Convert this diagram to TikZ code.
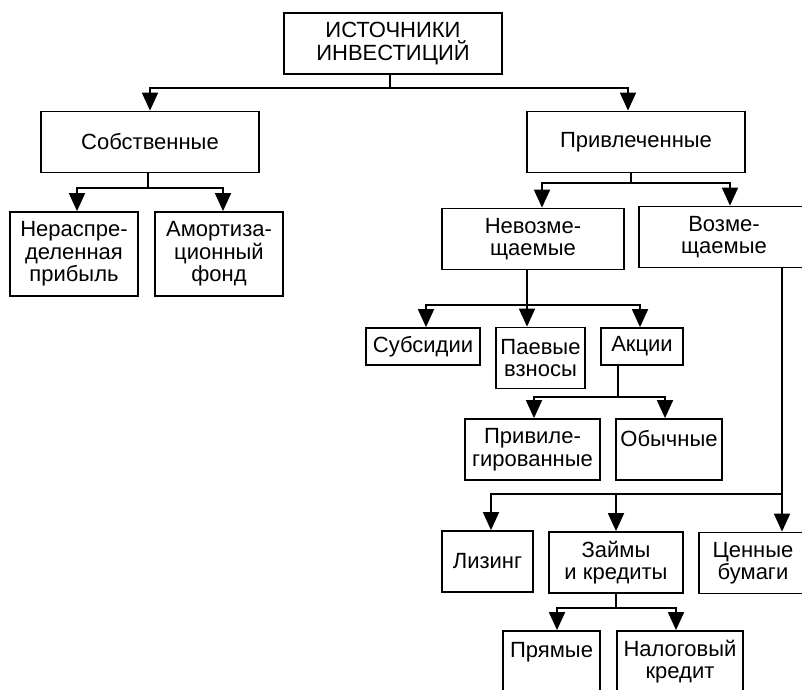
\documentclass[tikz,border=0pt]{standalone}
\usepackage{fontspec}
\setmainfont{Liberation Sans}
\usetikzlibrary{arrows.meta}

\begin{document}
\begin{tikzpicture}[
    x=1pt, y=-1pt,
    every node/.style={font=\fontsize{22}{22.5}\selectfont},
    box/.style={rectangle, draw, line width=1.8pt, align=center, inner sep=0pt,
                minimum height=61pt, minimum width=#1},
    box/.default=120pt,
    small/.style={box=#1, minimum height=37pt},
    tall/.style={box=#1, minimum height=84pt},
    arr/.style={-{Triangle[length=18pt, width=16pt]}, line width=1.8pt},
    rail/.style={line width=1.8pt},
]
\useasboundingbox (0,0) rectangle (802,689);
\clip (0,0) rectangle (802,689);

% --- Root and first level -------------------------------------------
\node[box=218pt]   (src)      at (393,43.5)  {ИСТОЧНИКИ\\ИНВЕСТИЦИЙ};
\node[box=218pt]   (own)      at (150,142)   {Собственные};
\node[box=218pt]   (borrowed) at (636,142)   {Привлеченные};

% --- Own sources ----------------------------------------------------
\node[tall=128pt]  (retained) at (74,254)    {Нераспре-\\деленная\\прибыль};
\node[tall=128pt]  (amort)    at (219,254)   {Амортиза-\\ционный\\фонд};

% --- Borrowed sources -----------------------------------------------
\node[box=182pt]   (nonret)   at (533,239)   {Невозме-\\щаемые};
\node[box=170pt]   (ret)      at (724,237)   {Возме-\\щаемые};
\node[small=114pt] (subsid)   at (423,346.5) {Субсидии};
\node[box=89pt]    (shares)   at (540.5,358) {Паевые\\взносы};
\node[small=82pt]  (stocks)   at (642,346.5) {Акции};
\node[box=135pt]   (pref)     at (532.5,449.5) {Привиле-\\гированные};
\node[box=106pt]   (common)   at (669,449.5) {Обычные\\~};
\node[box=91pt]    (leasing)  at (487.5,561.5) {Лизинг};
\node[box=134pt]   (loans)    at (616,562.5) {Займы\\и кредиты};
\node[box=108pt]   (papers)   at (753,563)   {Ценные\\бумаги};
\node[box=97pt]    (direct)   at (551.5,661.5) {Прямые\\~};
\node[box=126pt]   (taxcr)    at (680,661.5) {Налоговый\\кредит};

% --- Root -> own / borrowed -----------------------------------------
\coordinate (j1) at (390,88);
\draw[rail] (src.south -| j1) -- (j1);
\draw[arr] (j1) -| (own.north);
\draw[arr] (j1) -| ([xshift=-8pt]borrowed.north);

% --- Own -> retained profit / depreciation --------------------------
\coordinate (j2) at (148,188);
\draw[rail] (own.south -| j2) -- (j2);
\draw[arr] (j2) -| ([xshift=3pt]retained.north);
\draw[arr] (j2) -| ([xshift=4pt]amort.north);

% --- Borrowed -> non-returnable / returnable ------------------------
\coordinate (j3) at (631,183);
\draw[rail] (borrowed.south -| j3) -- (j3);
\draw[arr] (j3) -| ([xshift=9pt]nonret.north);
\draw[arr] (j3) -| ([xshift=6pt]ret.north);

% --- Non-returnable branch ------------------------------------------
\coordinate (j4) at (527,305);
\draw[rail] (nonret.south -| j4) -- (j4);
\draw[arr] (j4) -| ([xshift=3pt]subsid.north);
\draw[arr] (j4) -- (j4 |- shares.north);
\draw[arr] (j4) -| ([xshift=-2pt]stocks.north);

% --- Stocks -> preferred / common -----------------------------------
\coordinate (j5) at (618,397);
\draw[rail] (stocks.south -| j5) -- (j5);
\draw[arr] (j5) -| ([xshift=1.5pt]pref.north);
\draw[arr] (j5) -| ([xshift=-4pt]common.north);

% --- Returnable branch (rail on the right edge) ---------------------
\coordinate (j6) at (782,494);
\draw[arr] (ret.south -| j6) -- (j6 |- papers.north);
\draw[arr] (j6) -| ([xshift=3.5pt]leasing.north);
\draw[arr] (j6) -| (loans.north);

% --- Loans -> direct / tax credit -----------------------------------
\coordinate (j7) at (616,608);
\draw[rail] (loans.south -| j7) -- (j7);
\draw[arr] (j7) -| ([xshift=5.5pt]direct.north);
\draw[arr] (j7) -| ([xshift=-4pt]taxcr.north);
\end{tikzpicture}
\end{document}
